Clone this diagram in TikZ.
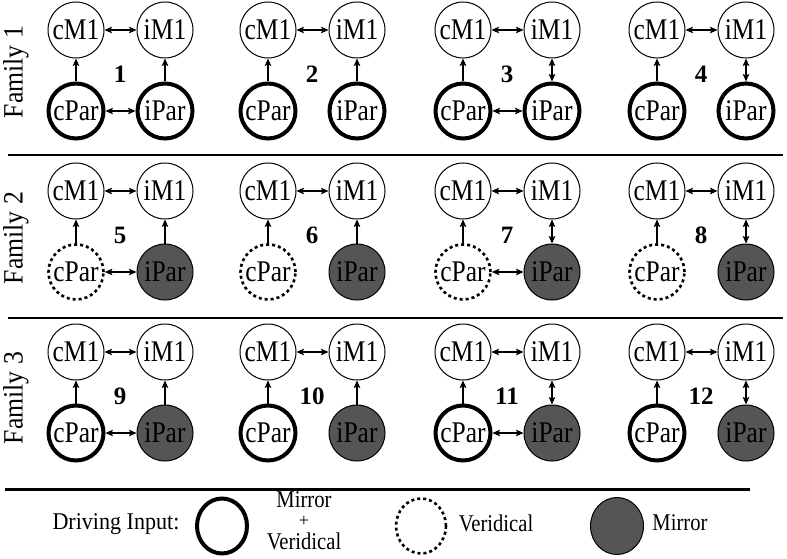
\documentclass[tikz,border=0pt]{standalone}
\usepackage{fontspec}
\setmainfont{Liberation Serif}
\usetikzlibrary{arrows.meta,shapes.geometric}
\definecolor{mirrorfill}{HTML}{555555}
\newcommand{\nt}[1]{\scalebox{0.85}[1]{#1}}
\newcommand{\lt}[1]{\scalebox{0.86}[1]{#1}}
\begin{document}
\begin{tikzpicture}[x=1pt,y=-1pt,
  nd/.style={circle,draw,line width=1pt,minimum size=56pt,inner sep=0pt,
    font=\fontsize{30}{30}\selectfont},
  thk/.style={nd,line width=4pt,minimum size=55pt},
  dotc/.style={nd,line width=2.6pt,dash pattern=on 3pt off 3pt,minimum size=55pt},
  fil/.style={nd,fill=mirrorfill,minimum size=56pt},
  arr/.style={line width=1.1pt,-{Stealth[length=7.5pt,width=6.5pt,inset=1.5pt]}},
  darr/.style={line width=1.1pt,{Stealth[length=7.5pt,width=6.5pt,inset=1.5pt]}-{Stealth[length=7.5pt,width=6.5pt,inset=1.5pt]}},
  numlab/.style={font=\fontsize{25}{25}\selectfont\bfseries},
  famlab/.style={rotate=90,font=\fontsize{28}{28}\selectfont},
  legtxt/.style={font=\fontsize{24}{20}\selectfont},
  sep/.style={line width=1.2pt}
]
\useasboundingbox (0,0) rectangle (787,559);

\foreach \r/\y/\ct/\it in {1/30/thk/thk,2/191/dotc/fil,3/352/thk/fil}{
  \foreach \c/\x in {1/76,2/268,3/463,4/657}{
    \pgfmathtruncatemacro{\num}{4*(\r-1)+\c}
    \pgfmathsetmacro{\yb}{\y+81}
    \pgfmathsetmacro{\xi}{\x+89}
    \pgfmathsetmacro{\xn}{\x+44}
    \pgfmathsetmacro{\yn}{\y+44}
    \node[nd] (cM-\r-\c) at (\x,\y) {\nt{cM1}};
    \node[nd] (iM-\r-\c) at (\xi,\y) {\nt{iM1}};
    \node[\ct] (cP-\r-\c) at (\x,\yb) {\nt{cPar}};
    \node[\it] (iP-\r-\c) at (\xi,\yb) {\nt{iPar}};
    \node[numlab] (n-\r-\c) at (\xn,\yn) {\num};
    \draw[darr] (cM-\r-\c) -- (iM-\r-\c);
    \draw[arr] (cP-\r-\c) -- (cM-\r-\c);
    \ifnum\c<3
      \draw[arr] (iP-\r-\c) -- (iM-\r-\c);
    \else
      \draw[darr] (iP-\r-\c) -- (iM-\r-\c);
    \fi
    \ifodd\c
      \draw[darr] (cP-\r-\c) -- (iP-\r-\c);
    \fi
  }
}

\node[famlab] (f1) at (16,72) {\scalebox{0.92}[1]{Family 1}};
\node[famlab] (f2) at (16,238) {\scalebox{0.92}[1]{Family 2}};
\node[famlab] (f3) at (16,398) {\scalebox{0.92}[1]{Family 3}};

\coordinate (s1a) at (8,155); \coordinate (s1b) at (783,155);
\coordinate (s2a) at (8,318); \coordinate (s2b) at (783,318);
\draw[sep] (s1a) -- (s1b);
\draw[sep] (s2a) -- (s2b);
\coordinate (la) at (5,489); \coordinate (lb) at (750,489);
\draw[line width=3pt] (la) -- (lb);

\node[legtxt] (di) at (116,524) {\scalebox{0.92}[1]{Driving Input:}};
\node[ellipse,draw,line width=4pt,minimum width=50pt,minimum height=55pt] (lg1) at (222,526) {};
\node[legtxt,inner sep=0pt] (lt1a) at (304,500) {\lt{Mirror}};
\node[font=\fontsize{18}{18}\selectfont,inner sep=0pt] (lt1b) at (304,521.5) {+};
\node[legtxt,inner sep=0pt] (lt1c) at (304,541) {\lt{Veridical}};
\node[ellipse,draw,line width=2.6pt,dash pattern=on 3pt off 3pt,minimum width=50pt,minimum height=55pt] (lg2) at (421,526) {};
\node[legtxt] (lt2) at (496,523) {\lt{Veridical}};
\node[ellipse,draw,line width=1pt,fill=mirrorfill,minimum width=53pt,minimum height=57pt] (lg3) at (617,526) {};
\node[legtxt] (lt3) at (680,523) {\lt{Mirror}};
\end{tikzpicture}
\end{document}
